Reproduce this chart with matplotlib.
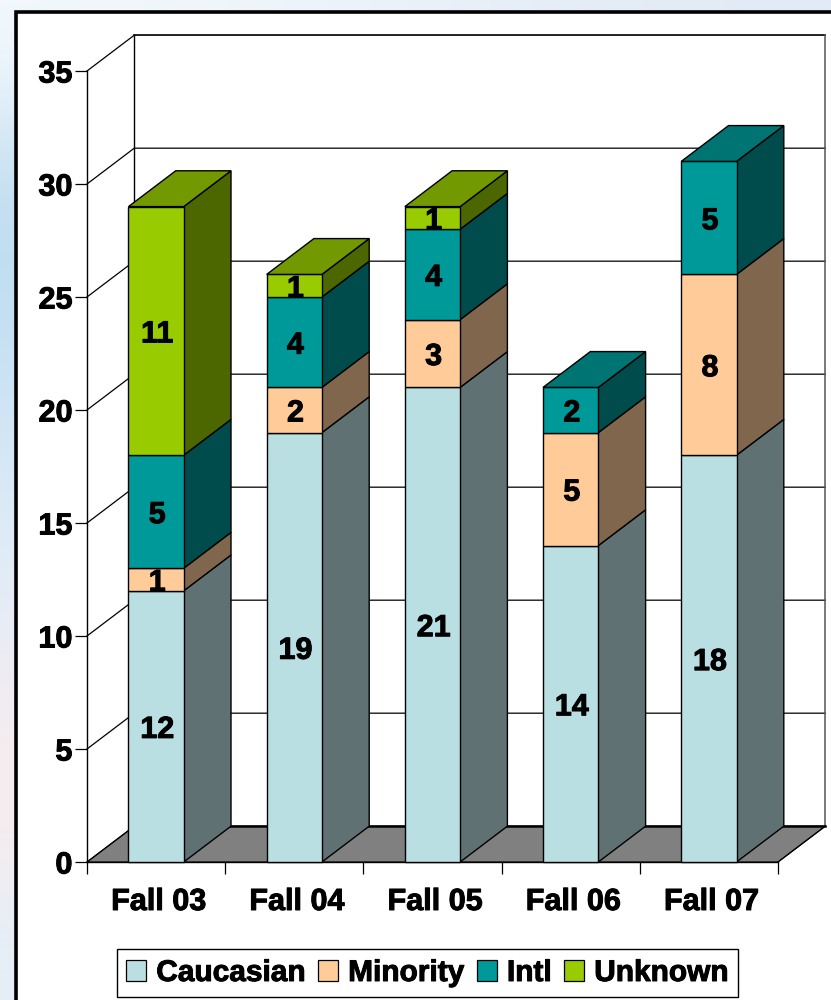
import numpy as np
import matplotlib
matplotlib.use("Agg")
import matplotlib.pyplot as plt
import matplotlib.patheffects as pe
import matplotlib.transforms as mtrans
from matplotlib.patches import Polygon, Patch

plt.rcParams['font.family'] = ['Liberation Sans', 'DejaVu Sans']
plt.rcParams['font.weight'] = 'bold'

semesters = ['Fall 03', 'Fall 04', 'Fall 05', 'Fall 06', 'Fall 07']
series_names = ['Caucasian', 'Minority', 'Intl', 'Unknown']
caucasian = [12, 19, 21, 14, 18]
minority = [1, 2, 3, 5, 8]
intl = [5, 4, 4, 2, 5]
unknown = [11, 1, 1, 0, 0]
y_ticks = [0, 5, 10, 15, 20, 25, 30, 35]

front_colors = ['#B9DFE3', '#FFCC99', '#009999', '#99CC00']
side_colors = ['#5F7173', '#7F664C', '#004C4C', '#4C6600']
top_colors = ['#8AA7AA', '#BF9973', '#007373', '#739900']

# fake 3d depth, in data units
DX = 0.342
DY = 1.585
BAR_W = 0.40

W, H = 831, 1000
HEAVY = [pe.withStroke(linewidth=0.7, foreground='black')]


def px_box(x0, y0, x1, y1):
  return [x0 / W, 1 - y1 / H, (x1 - x0) / W, (y1 - y0) / H]


def draw_background(fig):
  bg = fig.add_axes([0, 0, 1, 1], zorder=-5)
  # rough wash of the slide behind the chart
  colors = np.array([
    [[244, 249, 253], [226, 234, 245]],
    [[190, 220, 240], [226, 234, 245]],
    [[192, 222, 242], [230, 238, 248]],
    [[212, 230, 246], [235, 243, 250]],
    [[224, 236, 248], [240, 244, 250]],
    [[240, 236, 242], [245, 245, 250]],
    [[250, 236, 236], [252, 244, 244]],
    [[228, 238, 248], [240, 244, 250]],
  ]) / 255.0
  bg.imshow(colors, aspect='auto', interpolation='bicubic', extent=[0, W, H, 0])
  bg.set_xlim(0, W)
  bg.set_ylim(H, 0)
  bg.axis('off')
  bg.add_patch(plt.Rectangle((15.5, 11.5), W + 20, H + 20, fc='white', ec='black', lw=2.6))


def draw_walls(ax):
  n = len(semesters)
  ax.add_patch(Polygon([(0, 0), (n, 0), (n + DX, DY), (DX, DY)], closed=True,
                       fc='#808080', ec='black', lw=0.8, zorder=1, clip_on=False))
  ax.plot([DX, n + DX], [DY, DY], color='black', lw=1.8, zorder=1.5, clip_on=False)
  for v in y_ticks[1:]:
    ax.plot([0, DX, n + DX], [v, v + DY, v + DY], color='black', lw=0.9, clip_on=False, zorder=1)
  ax.plot([DX, n + DX], [y_ticks[-1] + DY] * 2, color='#222222', lw=1.3, clip_on=False, zorder=1)
  ax.plot([DX, DX], [DY, y_ticks[-1] + DY], color='black', lw=1.0, clip_on=False, zorder=1)
  ax.plot([n + DX, n + DX], [DY, y_ticks[-1] + DY], color='#555555', lw=1.1, clip_on=False, zorder=1)
  ax.plot([0, 0], [0, y_ticks[-1]], color='black', lw=1.0, clip_on=False, zorder=1)
  ax.plot([0, DX], [0, DY], color='black', lw=0.9, zorder=1.5, clip_on=False)
  ax.plot([0, n], [0, 0], color='black', lw=1.0, clip_on=False, zorder=1.5)
  ax.plot([n, n + DX], [0, DY], color='black', lw=0.9, zorder=1.5, clip_on=False)


def draw_bars(ax):
  table = [caucasian, minority, intl, unknown]
  for i in range(len(semesters)):
    x0 = i + 0.5 - BAR_W / 2
    x1 = i + 0.5 + BAR_W / 2
    base = 0
    top_color = None
    for s, values in enumerate(table):
      v = values[i]
      if v == 0:
        continue
      ax.add_patch(Polygon([(x1, base), (x1 + DX, base + DY), (x1 + DX, base + v + DY), (x1, base + v)],
                           closed=True, fc=side_colors[s], ec='black', lw=1.0, zorder=3, clip_on=False))
      ax.add_patch(Polygon([(x0, base), (x1, base), (x1, base + v), (x0, base + v)],
                           closed=True, fc=front_colors[s], ec='black', lw=1.0, zorder=4, clip_on=False))
      ax.text((x0 + x1) / 2 + 0.008, base + v / 2, str(v), ha='center', va='center_baseline',
              fontsize=22, fontweight='bold', color='black', zorder=6, path_effects=HEAVY)
      base += v
      top_color = top_colors[s]
    ax.add_patch(Polygon([(x0, base), (x1, base), (x1 + DX, base + DY), (x0 + DX, base + DY)],
                         closed=True, fc=top_color, ec='black', lw=1.0, zorder=5, clip_on=False))


def plot_chart():
  fig = plt.figure(figsize=(W / 100, H / 100), dpi=100)
  draw_background(fig)

  ax = fig.add_axes(px_box(87, 71, 778, 862))
  ax.patch.set_alpha(0)
  ax.set_xlim(0, len(semesters))
  ax.set_ylim(0, y_ticks[-1])
  for side in ax.spines.values():
    side.set_visible(False)

  draw_walls(ax)
  draw_bars(ax)

  ax.set_yticks(y_ticks)
  ax.set_yticklabels([str(v) for v in y_ticks], fontsize=22, fontweight='bold', path_effects=HEAVY)
  ax.set_xticks(range(len(semesters) + 1))
  ax.set_xticklabels([])
  ax.set_xticks(np.arange(len(semesters)) + 0.5, semesters, minor=True, fontsize=22, fontweight='bold',
                path_effects=HEAVY)
  ax.tick_params(axis='both', which='major', length=8.5, width=0.9, color='black')
  ax.tick_params(axis='y', pad=2)
  ax.tick_params(axis='x', which='minor', length=0, pad=18)
  # category labels sit a touch right of the bar centres
  nudge = mtrans.ScaledTranslation(2.5 / 100, 0, fig.dpi_scale_trans)
  for lab in ax.get_xticklabels(minor=True):
    lab.set_transform(lab.get_transform() + nudge)

  handles = [Patch(fc=c, ec='black', lw=0.9) for c in front_colors]
  leg = fig.legend(handles, series_names, loc='center', bbox_to_anchor=((118 + 737) / 2 / W, 1 - 973 / H),
                   ncol=4, fontsize=21.5, frameon=True, fancybox=False, framealpha=1, edgecolor='black',
                   handlelength=0.66, handleheight=0.66, handletextpad=0.34, columnspacing=0.42,
                   borderpad=0.33, borderaxespad=0)
  for t in leg.get_texts():
    t.set_path_effects(HEAVY)
  fig.savefig('out.png', dpi=100)
  plt.close()


if __name__ == "__main__":
  plot_chart()
